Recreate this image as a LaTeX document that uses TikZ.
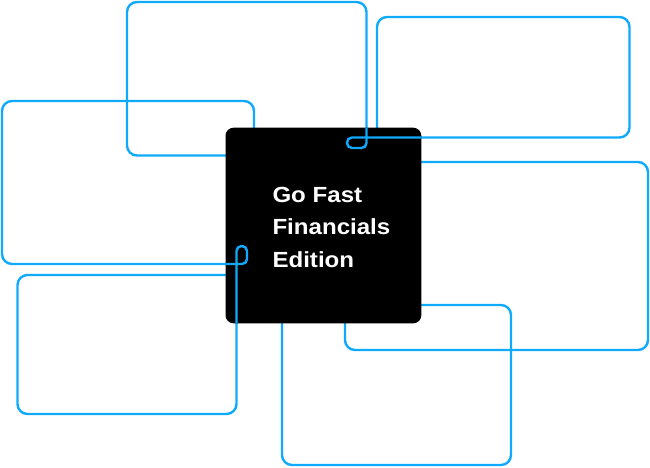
\documentclass[tikz,border=0pt]{standalone}
\usepackage{fontspec}
\newfontfamily\titlefont[FakeStretch=1.1]{Liberation Sans}
\usetikzlibrary{positioning}
\definecolor{frameblue}{RGB}{16,170,252}

\tikzset{
  panel/.style={draw=frameblue, line width=2.4pt, rounded corners=10pt},
  loopline/.style={draw=frameblue, line width=2.4pt, rounded corners=5pt},
  card/.style={fill=black, rounded corners=8pt, inner sep=0pt},
  title/.style={text=white, inner sep=0pt, anchor=base west,
    font=\titlefont\bfseries\fontsize{21.9}{26}\selectfont}
}

\begin{document}
\begin{tikzpicture}[x=1pt, y=-1pt]
\useasboundingbox (0,0) rectangle (650,467);

\def\cl{225.5}
\def\cr{421.3}
\def\ct{127.7}
\def\cb{323.3}

% panels behind the card
\draw[panel] (127,2) rectangle (366.5,155.5);
\draw[panel] (377,17) rectangle (629.5,137.5);
\draw[panel] (2,101) rectangle (254,264);
\draw[panel] (17.5,275) rectangle (236.5,414);
\draw[panel] (345,162) rectangle (648,350);
\draw[panel] (282,305) rectangle (511,465);

% card
\fill[card] (\cl,\ct) rectangle (\cr,\cb);
\coordinate (card) at ({(\cl+\cr)/2},{(\ct+\cb)/2});

\def\tx{272.3}
\node[title] (go) at (\tx,202.3) {Go Fast};
\node[title] (fin) at (\tx,234.8) {Financials};
\node[title] (ed) at (\tx,267.3) {Edition};

% loops over the card
\coordinate (top in) at (366.5,\ct);
\coordinate (top out) at (\cr,137.5);
\draw[loopline] (top in) -- (366.5,148) -- (347,148) -- (347,137.5) -- (top out);

\coordinate (low in) at (236.5,\cb);
\coordinate (low out) at (\cl,264);
\draw[loopline] (low in) -- (236.5,246) -- (247,246) -- (247,264) -- (low out);

\end{tikzpicture}
\end{document}
